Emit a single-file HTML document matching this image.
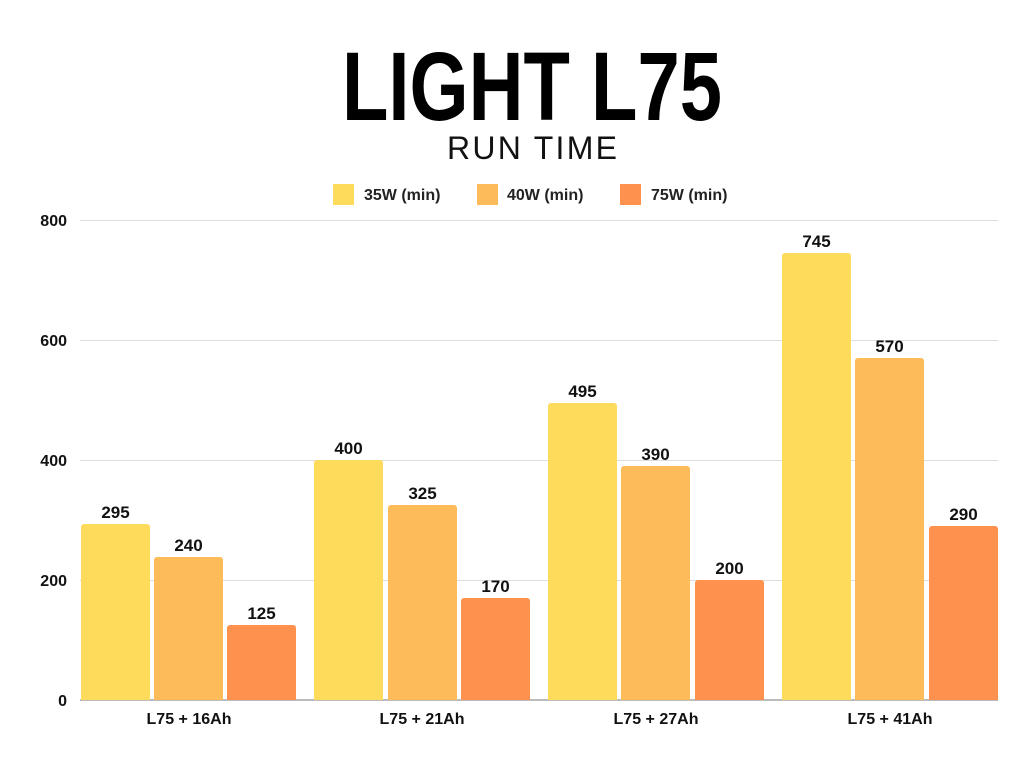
<!DOCTYPE html>
<html><head><meta charset="utf-8"><style>html,body{margin:0;padding:0;background:#fff}svg{display:block}</style></head>
<body>
<svg width="1024" height="768" xmlns="http://www.w3.org/2000/svg" font-family="Liberation Sans, sans-serif">
<rect width="1024" height="768" fill="#fff"/>
<text x="532" y="120" font-size="97" font-weight="bold" text-anchor="middle" textLength="380" lengthAdjust="spacingAndGlyphs" fill="#000">LIGHT L75</text>
<text x="532" y="159" font-size="32" text-anchor="middle" textLength="170" lengthAdjust="spacing" fill="#111">RUN TIME</text>
<g font-size="16" font-weight="bold" fill="#222">
<rect x="333" y="184" width="21" height="21" fill="#FEDB5A"/><text x="364" y="200">35W (min)</text>
<rect x="477" y="184" width="21" height="21" fill="#FDBB5A"/><text x="507" y="200">40W (min)</text>
<rect x="620" y="184" width="21" height="21" fill="#FE914E"/><text x="651" y="200">75W (min)</text>
</g>
<g stroke="#ddd" stroke-width="1">
<line x1="80" y1="220.5" x2="998" y2="220.5"/><line x1="80" y1="340.5" x2="998" y2="340.5"/>
<line x1="80" y1="460.5" x2="998" y2="460.5"/><line x1="80" y1="580.5" x2="998" y2="580.5"/>
</g>
<g font-size="16" font-weight="bold" fill="#111" text-anchor="end">
<text x="67" y="226">800</text><text x="67" y="346">600</text><text x="67" y="466">400</text><text x="67" y="586">200</text><text x="67" y="706">0</text>
</g>
<g id="bars"></g>
<line x1="80" y1="700" x2="998" y2="700" stroke="#bbb" stroke-width="2"/>
<g font-size="16" font-weight="bold" fill="#111" text-anchor="middle">
<text x="189" y="724">L75 + 16Ah</text><text x="422" y="724">L75 + 21Ah</text><text x="656" y="724">L75 + 27Ah</text><text x="890" y="724">L75 + 41Ah</text>
</g>
<g font-size="17" font-weight="bold" fill="#111" text-anchor="middle">
<path d="M81 700V527a3 3 0 0 1 3-3h63a3 3 0 0 1 3 3V700Z" fill="#FEDB5A"/>
<path d="M154 700V560a3 3 0 0 1 3-3h63a3 3 0 0 1 3 3V700Z" fill="#FDBB5A"/>
<path d="M227 700V628a3 3 0 0 1 3-3h63a3 3 0 0 1 3 3V700Z" fill="#FE914E"/>
<text x="115.5" y="518">295</text><text x="188.5" y="551">240</text><text x="261.5" y="619">125</text>
<path d="M314 700V463a3 3 0 0 1 3-3h63a3 3 0 0 1 3 3V700Z" fill="#FEDB5A"/>
<path d="M388 700V508a3 3 0 0 1 3-3h63a3 3 0 0 1 3 3V700Z" fill="#FDBB5A"/>
<path d="M461 700V601a3 3 0 0 1 3-3h63a3 3 0 0 1 3 3V700Z" fill="#FE914E"/>
<text x="348.5" y="454">400</text><text x="422.5" y="499">325</text><text x="495.5" y="592">170</text>
<path d="M548 700V406a3 3 0 0 1 3-3h63a3 3 0 0 1 3 3V700Z" fill="#FEDB5A"/>
<path d="M621 700V469a3 3 0 0 1 3-3h63a3 3 0 0 1 3 3V700Z" fill="#FDBB5A"/>
<path d="M695 700V583a3 3 0 0 1 3-3h63a3 3 0 0 1 3 3V700Z" fill="#FE914E"/>
<text x="582.5" y="397">495</text><text x="655.5" y="460">390</text><text x="729.5" y="574">200</text>
<path d="M782 700V256a3 3 0 0 1 3-3h63a3 3 0 0 1 3 3V700Z" fill="#FEDB5A"/>
<path d="M855 700V361a3 3 0 0 1 3-3h63a3 3 0 0 1 3 3V700Z" fill="#FDBB5A"/>
<path d="M929 700V529a3 3 0 0 1 3-3h63a3 3 0 0 1 3 3V700Z" fill="#FE914E"/>
<text x="816.5" y="247">745</text><text x="889.5" y="352">570</text><text x="963.5" y="520">290</text>
</g>
</svg>
</body></html>
